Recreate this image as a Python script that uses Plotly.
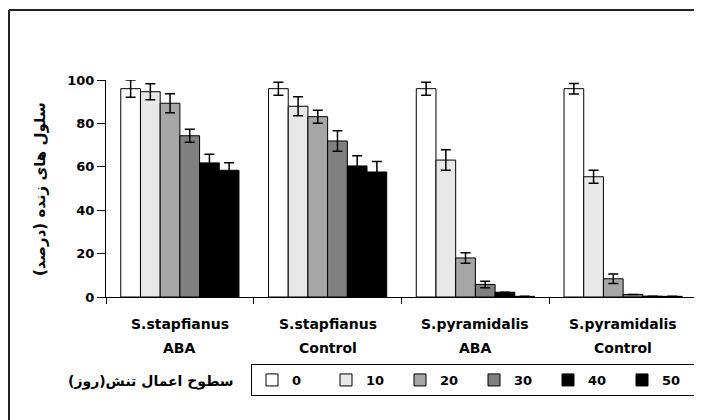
import plotly.graph_objects as go

categories = ["S.stapfianus ABA", "S.stapfianus Control", "S.pyramidalis ABA", "S.pyramidalis Control"]
cat_line1 = ["S.stapfianus", "S.stapfianus", "S.pyramidalis", "S.pyramidalis"]
cat_line2 = ["ABA", "Control", "ABA", "Control"]

series_names = ["0", "10", "20", "30", "40", "50"]
values = [
    [96.0, 96.0, 96.0, 96.0],   # 0
    [94.6, 87.9, 63.1, 55.4],   # 10
    [89.3, 83.1, 18.0, 8.4],    # 20
    [74.3, 71.9, 5.8, 1.2],     # 30
    [61.8, 60.4, 2.2, 0.4],     # 40
    [58.4, 57.6, 0.3, 0.3],     # 50
]
errors = [
    [4.0, 3.0, 3.0, 2.4],
    [3.7, 4.4, 4.7, 3.0],
    [4.4, 3.0, 2.4, 2.2],
    [3.0, 4.7, 1.5, 0.0],
    [4.0, 4.7, 0.0, 0.0],
    [3.5, 4.9, 0.0, 0.0],
]
colors = ["#ffffff", "#e8e8e8", "#a6a6a6", "#808080", "#000000", "#000000"]

y_title = "سلول های زنده (درصد)"
legend_title = "سطوح اعمال تنش(روز)"

FONT = "DejaVu Sans"

# figure is placed at page offset (8, 8) by the default body margin
W, H = 694, 412
L, R, T, B = 98, 5, 72, 123
PW, PH = W - L - R, H - T - B


def px(xf):  # figure x pixel -> paper
    return (xf - L) / PW


def py(yf):  # figure y pixel -> paper
    return (H - B - yf) / PH


fig = go.Figure()
for name, vals, errs, col in zip(series_names, values, errors, colors):
    fig.add_trace(go.Bar(
        x=categories, y=vals, name=name,
        marker=dict(color=col, line=dict(color="#000000", width=1)),
        error_y=dict(type="data", array=errs, visible=True, color="#000000",
                     thickness=1.5, width=5),
    ))

afont = dict(family=FONT, size=14, color="#000", weight="bold")
annotations = []
for c, l1, l2 in zip(categories, cat_line1, cat_line2):
    annotations.append(dict(x=c, xref="x", y=py(316), yref="paper", text=l1,
                            showarrow=False, yanchor="middle", font=afont))
    annotations.append(dict(x=c, xref="x", y=py(340), yref="paper", text=l2,
                            showarrow=False, yanchor="middle", font=afont))
annotations.append(dict(x=px(32), xref="paper", y=py(181), yref="paper", text=y_title,
                        textangle=-90, showarrow=False, xanchor="center", yanchor="middle",
                        font=dict(family=FONT, size=15, color="#000", weight="bold")))
annotations.append(dict(x=px(228), xref="paper", y=py(373), yref="paper",
                        text=legend_title, showarrow=False, xanchor="right", yanchor="middle",
                        font=afont))

frame = dict(color="#222", width=2)
fig.update_layout(
    width=W, height=H,
    margin=dict(l=L, r=R, t=T, b=B, autoexpand=False),
    paper_bgcolor="white", plot_bgcolor="white",
    barmode="group", bargap=0.2, bargroupgap=0,
    font=dict(family=FONT, size=13, color="#000", weight="bold"),
    showlegend=True,
    legend=dict(orientation="h", xref="container", yref="container",
                x=243 / W, y=1 - 356 / H,
                xanchor="left", yanchor="top", bordercolor="#000", borderwidth=1,
                bgcolor="white", entrywidth=29, entrywidthmode="pixels", itemwidth=30,
                traceorder="normal",
                font=dict(family=FONT, size=13, color="#000", weight="bold")),
    annotations=annotations,
    shapes=[
        dict(type="line", xref="paper", yref="paper", x0=px(1), x1=px(1), y0=py(H), y1=py(2), line=frame),
        dict(type="line", xref="paper", yref="paper", x0=px(1), x1=px(W), y0=py(2), y1=py(2), line=frame),
    ],
)
fig.update_xaxes(showticklabels=False, showline=True, linecolor="#000", linewidth=1,
                 ticks="outside", ticklen=6, tickcolor="#000", tickson="boundaries",
                 showgrid=False, zeroline=False)
fig.update_yaxes(range=[0, 100], dtick=20, showline=True, linecolor="#000", linewidth=1,
                 ticks="outside", ticklen=8, tickcolor="#000", showgrid=False, zeroline=False,
                 tickfont=dict(family=FONT, size=13, color="#000", weight="bold"))

fig.write_html(
    "out.html",
    post_script="document.documentElement.style.overflow='hidden';document.body.style.overflow='hidden';",
)
